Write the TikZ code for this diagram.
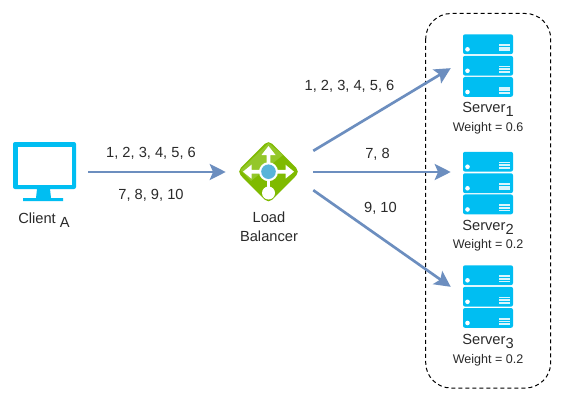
\documentclass[tikz,border=0pt]{standalone}
\usepackage{fontspec}
\setmainfont{Liberation Sans}
\usetikzlibrary{arrows.meta}
\definecolor{cy}{HTML}{00BEF2}
\definecolor{lnk}{HTML}{6C8EBF}
\definecolor{gr}{HTML}{7FBA00}
\definecolor{gl}{HTML}{94C72A}
\definecolor{bl}{HTML}{59B4D9}
\definecolor{tx}{HTML}{2A2A2A}
\tikzset{
  x=0.75pt,y=-0.75pt,
  lab/.style={font=\fontsize{11pt}{14pt}\selectfont,text=tx,inner sep=0pt,align=center},
  wlab/.style={font=\fontsize{9.4pt}{11pt}\selectfont,text=tx,inner sep=0pt},
  link/.style={draw=lnk,line width=2pt,-{Stealth[length=12pt,width=12pt,inset=2.5pt]}},
  anchorbox/.style={inner sep=0pt,minimum size=0pt},
  wh/.style={fill=white,draw=none},
}
\newcommand{\serverrow}[1]{%
  \fill[cy,rounded corners=1.5pt] (463,#1) rectangle (513,#1+19.8);
  \fill[white] (467.5,#1+15) circle (2.3);
  \fill[white!85!cy] (499,#1+9.8) rectangle (510,#1+11.6);
  \fill[white!85!cy] (499,#1+12.5) rectangle (510,#1+14.3);
  \fill[white!85!cy] (499,#1+15.2) rectangle (510,#1+17);
}
\newcommand{\serverstack}[1]{%
  \begin{scope}[yshift=#1]
  \serverrow{34.3}\serverrow{55.8}\serverrow{77}
  \end{scope}}
\newcommand{\subtxt}[1]{\raisebox{-3pt}{#1}}
\begin{document}
\begin{tikzpicture}
\useasboundingbox (0,0) rectangle (564,403);
\fill[white] (0,0) rectangle (564,403);
% group
\draw[black,line width=0.75pt,dash pattern=on 3pt off 2.25pt,rounded corners=19pt] (425.7,13.5) rectangle (550.7,388);
% client
\fill[cy,rounded corners=1.5pt] (13,142) rectangle (76,189);
\fill[white] (17.5,146.5) rectangle (71.5,185);
\fill[cy] (37,189) -- (50,189) -- (51,198) -- (63,198) -- (63,201) -- (23,201) -- (23,198) -- (36,198) -- cycle;
% load balancer
\fill[gr,rounded corners=4pt] (268.5,140) -- (300,171.7) -- (268.5,203.5) -- (237,171.7) -- cycle;
\fill[gl] (268.5,143) -- (240.5,170) -- (251,181) -- (283,155) -- cycle;
\fill[wh] (266.7,172) -- (266.7,155) -- (261.5,155) -- (268.5,146) -- (275.5,155) -- (270.3,155) -- (270.3,172) -- cycle;
\fill[wh] (268.5,169.9) -- (251.5,169.9) -- (251.5,164.7) -- (243,171.7) -- (251.5,178.7) -- (251.5,173.5) -- (268.5,173.5) -- cycle;
\fill[wh] (268.5,169.9) -- (285.5,169.9) -- (285.5,164.7) -- (294,171.7) -- (285.5,178.7) -- (285.5,173.5) -- (268.5,173.5) -- cycle;
\fill[wh] (266.7,172) rectangle (270.3,190);
\fill[wh] (268.5,193) circle (6.5);
\fill[wh] (268.5,171.7) circle (9.5);
\fill[bl] (268.5,171.7) circle (7.3);
% servers
\serverstack{0pt}
\serverstack{-88.1pt}
\serverstack{-173.25pt}
% anchors
\node[anchorbox] (client) at (88,172) {};
\node[anchorbox] (lbin) at (226,172) {};
\node[anchorbox] (lbtop) at (313,151) {};
\node[anchorbox] (lbmid) at (313,172) {};
\node[anchorbox] (lbbot) at (313,190) {};
\node[anchorbox] (s1) at (451,68) {};
\node[anchorbox] (s2) at (451,172) {};
\node[anchorbox] (s3) at (451,287) {};
\draw[link] (client) -- (lbin);
\draw[link] (lbtop) -- (s1);
\draw[link] (lbmid) -- (s2);
\draw[link] (lbbot) -- (s3);
% labels
\node[lab] (t1) at (151,153) {1, 2, 3, 4, 5, 6};
\node[lab] (t2) at (151,195) {7, 8, 9, 10};
\node[lab] (t3) at (349.5,86) {1, 2, 3, 4, 5, 6};
\node[lab] (t4) at (377.5,154) {7, 8};
\node[lab] (t5) at (380.5,208) {9, 10};
\node[lab] (cl) at (44,220) {Client \subtxt{A}};
\node[lab] (lb) at (269,227) {Load\\Balancer};
\node[lab] (n1) at (488,109) {Server\subtxt{1}};
\node[wlab] (w1) at (488,128) {Weight = 0.6};
\node[lab] (n2) at (488,227) {Server\subtxt{2}};
\node[wlab] (w2) at (488,245) {Weight = 0.2};
\node[lab] (n3) at (488,341) {Server\subtxt{3}};
\node[wlab] (w3) at (488,360) {Weight = 0.2};
\end{tikzpicture}
\end{document}
